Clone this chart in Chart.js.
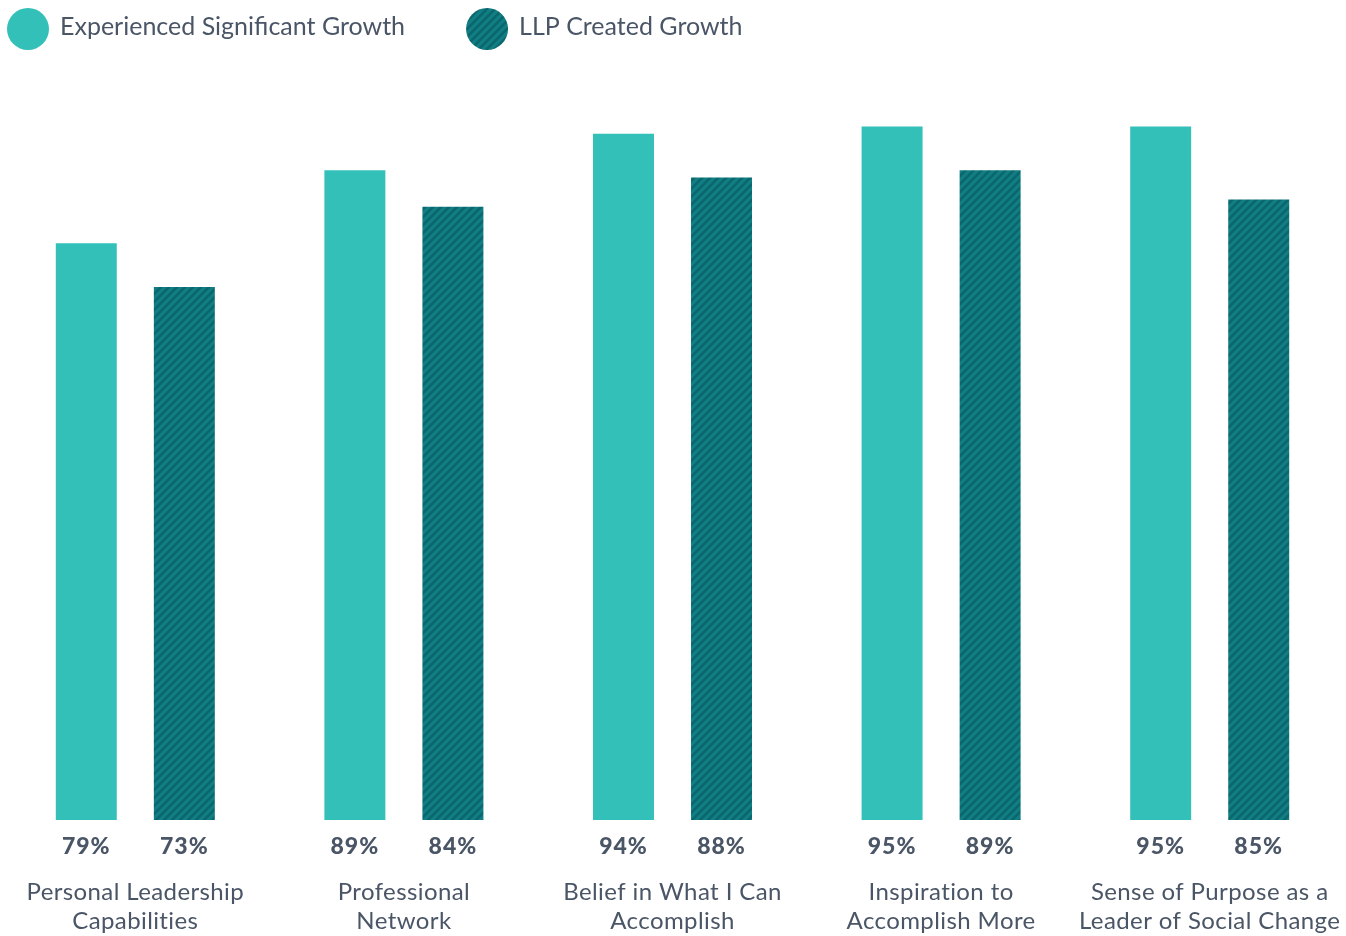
<!DOCTYPE html>
<html>
<head>
<meta charset="utf-8">
<script src="https://cdn.jsdelivr.net/npm/chart.js@4.4.0/dist/chart.umd.min.js"></script>
<style>
html, body { margin: 0; padding: 0; background: #fff; }
#wrap { width: 1346px; height: 936px; }
</style>
</head>
<body>
<div id="wrap"><canvas id="growthChart"></canvas></div>
<script>
const categories = [
    ['Personal Leadership', 'Capabilities'],
    ['Professional', 'Network'],
    ['Belief in What I Can', 'Accomplish'],
    ['Inspiration to', 'Accomplish More'],
    ['Sense of Purpose as a', 'Leader of Social Change']
];
const seriesNames = ['Experienced Significant Growth', 'LLP Created Growth'];
const experiencedGrowth = [79, 89, 94, 95, 95];
const llpCreatedGrowth = [73, 84, 88, 89, 85];

const TEXT = '#4a5566';
const TEAL = '#33c0b9';
const FONT = 'Lato, "Noto Sans", sans-serif';

// diagonal stripes for the second series
function hatchPattern() {
    const c = document.createElement('canvas');
    c.width = 8;
    c.height = 8;
    const g = c.getContext('2d');
    g.fillStyle = '#107e84';
    g.fillRect(0, 0, 8, 8);
    g.strokeStyle = '#0b676c';
    g.lineWidth = 2.5;
    g.beginPath();
    g.moveTo(-1, 9); g.lineTo(9, -1);
    g.moveTo(-1, 1); g.lineTo(1, -1);
    g.moveTo(7, 9); g.lineTo(9, 7);
    g.stroke();
    return g.createPattern(c, 'repeat');
}

const circleLegend = {
    id: 'circleLegend',
    afterDraw(chart) {
        const ctx = chart.ctx;
        ctx.save();
        ctx.letterSpacing = '0px';
        ctx.font = '25px ' + FONT;
        ctx.textBaseline = 'middle';
        let x = 7;
        chart.data.datasets.forEach(ds => {
            ctx.fillStyle = ds.backgroundColor;
            ctx.beginPath();
            ctx.arc(x + 21, 29, 21, 0, Math.PI * 2);
            ctx.fill();
            ctx.fillStyle = TEXT;
            ctx.fillText(ds.label, x + 53, 27);
            x += 53 + ctx.measureText(ds.label).width + 61;
        });
        ctx.restore();
    }
};

const valueLabels = {
    id: 'valueLabels',
    afterDatasetsDraw(chart) {
        const ctx = chart.ctx;
        ctx.save();
        ctx.font = '900 23px ' + FONT;
        ctx.letterSpacing = '1px';
        ctx.fillStyle = TEXT;
        ctx.textAlign = 'center';
        ctx.textBaseline = 'middle';
        chart.data.datasets.forEach((ds, i) => {
            chart.getDatasetMeta(i).data.forEach((bar, j) => {
                ctx.fillText(ds.data[j] + '%', bar.x, bar.base + 27);
            });
        });
        ctx.restore();
    }
};

// slightly wider category text, closer to the original typeface
const tickSpacing = {
    id: 'tickSpacing',
    beforeUpdate(chart) { chart.ctx.letterSpacing = '0.4px'; },
    beforeDraw(chart) { chart.ctx.letterSpacing = '0.4px'; }
};

const ctx = document.getElementById('growthChart').getContext('2d');
new Chart(ctx, {
    type: 'bar',
    data: {
        labels: categories,
        datasets: [{
            label: seriesNames[0],
            data: experiencedGrowth,
            backgroundColor: TEAL
        }, {
            label: seriesNames[1],
            data: llpCreatedGrowth,
            backgroundColor: hatchPattern()
        }]
    },
    options: {
        responsive: true,
        maintainAspectRatio: false,
        animation: false,
        barPercentage: 0.622,
        categoryPercentage: 0.73,
        layout: {
            padding: { top: 90, left: 1, right: 2, bottom: 0 }
        },
        plugins: {
            legend: { display: false },
            tooltip: { enabled: false }
        },
        scales: {
            y: {
                display: false,
                min: 0,
                max: 100
            },
            x: {
                grid: { display: false, drawTicks: false },
                border: { display: false },
                ticks: {
                    color: TEXT,
                    font: { family: FONT, size: 24, lineHeight: 1.21 },
                    padding: 58,
                    maxRotation: 0,
                    autoSkip: false
                },
                afterFit(axis) {
                    axis.paddingLeft = 0;
                    axis.paddingRight = 0;
                    axis.height = 116;
                }
            }
        }
    },
    plugins: [tickSpacing, circleLegend, valueLabels]
});
</script>
</body>
</html>
